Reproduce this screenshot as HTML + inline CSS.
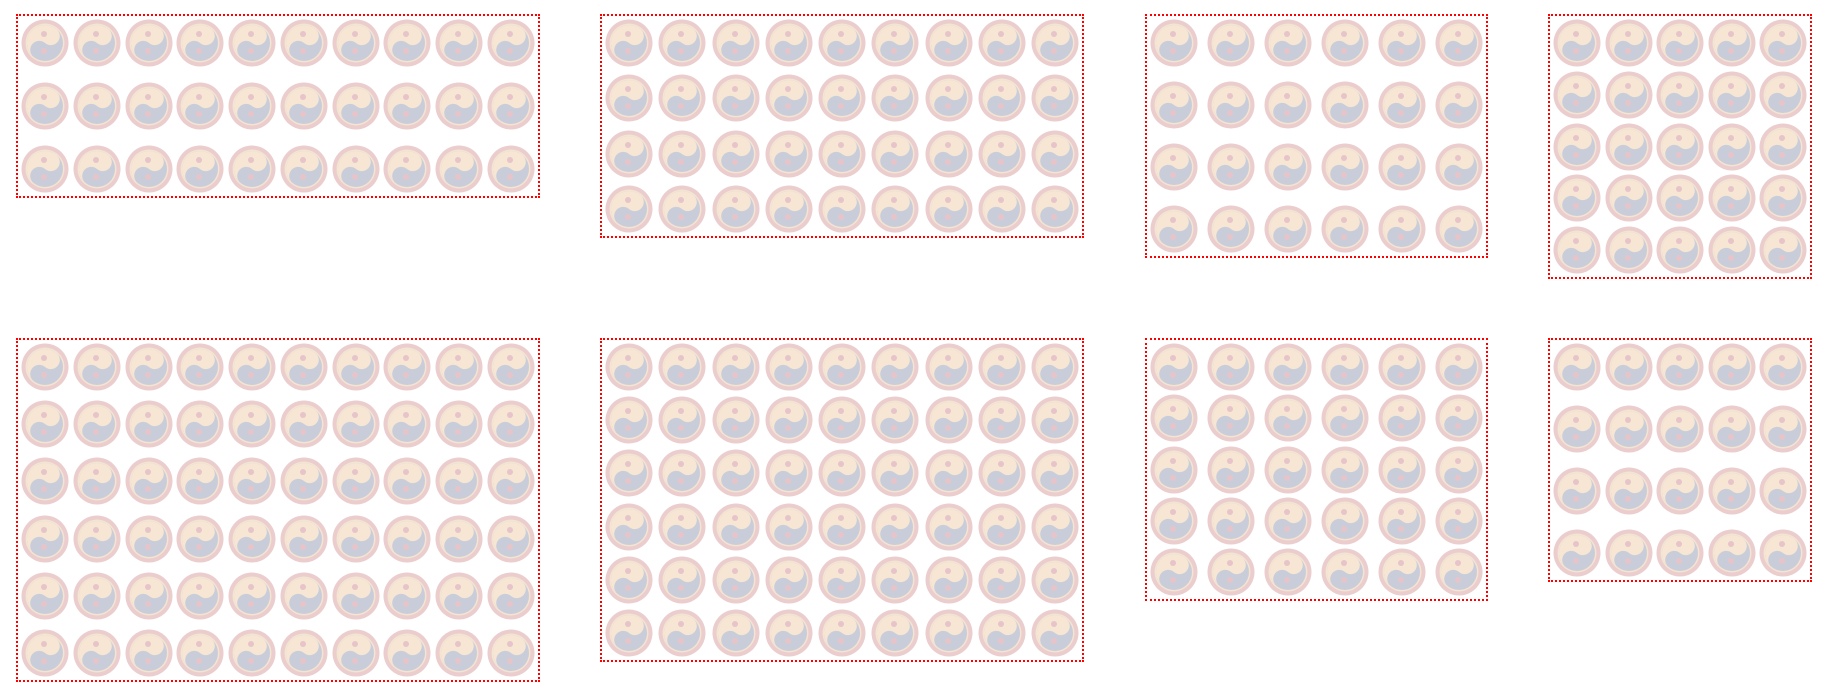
<!DOCTYPE html>
<html><head><meta charset="utf-8">
<style>
html,body{margin:0;padding:0;background:#fff;width:1828px;height:696px;overflow:hidden;font-family:"Liberation Sans",sans-serif;}
.panel{position:absolute;border:2px dotted #ff0000;box-sizing:border-box;}
.icon{position:absolute;width:48px;height:48px;}
</style></head>
<body>
<svg width="0" height="0" style="position:absolute">
<defs>
<g id="yy">
<circle cx="0" cy="0" r="23.5" fill="#ebcdcd"/>
<circle cx="0" cy="0" r="19.5" fill="#f4e4d2"/>
<circle cx="0" cy="0" r="18" fill="#c9cdda"/>
<path transform="rotate(40)" d="M0,-18 A18,18 0 0,0 0,18 A9,9 0 0,1 0,0 A9,9 0 0,0 0,-18 Z" fill="#f6e6d3"/>
<circle cx="-1" cy="-9" r="3" fill="#e6c4c9"/>
<circle cx="-1" cy="8" r="3" fill="#e6c4c9"/>
</g>
</defs>
</svg>
<div id="root"></div>
<script>
const panelNames=['panel-1','panel-2','panel-3','panel-4','panel-5','panel-6','panel-7','panel-8'];
const panelCols=[10,9,6,5,10,9,6,5];
const panelRows=[3,4,4,5,6,6,5,4];
const boxes=[[16,14,524,184],[600,14,484,224],[1145,14,343,244],[1548,14,264,265],[16,338,524,344],[600,338,484,324],[1145,338,343,263],[1548,338,264,244]];
const root=document.getElementById('root');
const S=48,pad=3;
panelNames.forEach((nm,i)=>{
  const [x,y,w,h]=boxes[i];
  const p=document.createElement('div');
  p.className='panel';
  p.style.left=x+'px';p.style.top=y+'px';p.style.width=w+'px';p.style.height=h+'px';
  
  
  root.appendChild(p);
  const c=panelCols[i],r=panelRows[i];
  const iw=w-4-2*pad-S, ih=h-4-2*pad-S;
  for(let rr=0;rr<r;rr++)for(let cc=0;cc<c;cc++){
    const ix=pad+(c>1?iw*cc/(c-1):0), iy=pad+(r>1?ih*rr/(r-1):0);
    const s=document.createElementNS('http://www.w3.org/2000/svg','svg');
    s.setAttribute('class','icon');
    s.setAttribute('viewBox','-24 -24 48 48');
    s.style.left=ix+'px';s.style.top=iy+'px';
    s.innerHTML='<use href="#yy"/>';
    
    
    p.appendChild(s);
  }
});
</script>
</body></html>
